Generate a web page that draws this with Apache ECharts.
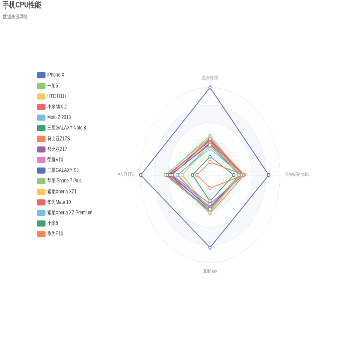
<!DOCTYPE html>
<html><head><meta charset="utf-8">
<script src="https://cdn.jsdelivr.net/npm/echarts@6/dist/echarts.min.js"></script>
<style>html,body{margin:0;padding:0;background:#fff;overflow:hidden;width:350px;height:350px}
#c{width:1000px;height:800px;transform:scale(0.35,0.4375);transform-origin:0 0}</style>
</head><body><div id="c"></div>
<script>
var indicators = ['综合性能', 'ANTUTU', '3DMark', 'GeekBench4'];
var phones = ['iPhone X','一加5','HTC U11+','小米MIX 2','Moto Z 2018','三星GALAXY Note 8','努比亚Z17S','努比亚Z17','荣耀V10','三星GALAXY S8','苹果iPhone 7 Plus','索尼Xperia XZ1','华为Mate 10','索尼Xperia XZ Premium','小米6','华为P10'];
var iPhoneX = [100, 99, 83, 84];
var oneplus5 = [45, 63, 40, 46];
var htcU11 = [38, 39, 42, 44];
var mix2 = [40, 59, 37, 47];
var motoZ = [33, 46, 38, 43];
var note8 = [36, 56, 39, 42];
var z17s = [42, 58, 44, 49];
var z17 = [39, 61, 41, 45];
var v10 = [37, 55, 36, 43];
var s8 = [35, 57, 38, 42];
var ip7p = [43, 64, 42, 41];
var xz1 = [34, 40, 40, 46];
var mate10 = [41, 54, 33, 48];
var xzp = [30, 47, 39, 45];
var mi6 = [21, 25, 30, 34];
var p10 = [15, 19, 15, 48];
var values = [iPhoneX, oneplus5, htcU11, mix2, motoZ, note8, z17s, z17, v10, s8, ip7p, xz1, mate10, xzp, mi6, p10];

var chart = echarts.init(document.getElementById('c'));
chart.setOption({
  animation: false,
  color: ['#5470c6','#91cc75','#fac858','#ee6666','#73c0de','#3ba272','#fc8452','#9a60b4','#ea7ccc'],
  title: {
    text: '手机CPU性能', subtext: '数据来源网络', left: 3, top: -2, itemGap: 12,
    textStyle: {fontSize: 18, fontWeight: 'bold', color: '#464646'},
    subtextStyle: {fontSize: 12, color: '#6e7079'}
  },
  legend: {
    orient: 'vertical', left: '10%', top: '20%', itemGap: 10.2,
    textStyle: {fontSize: 12, color: '#333'},
    data: phones
  },
  radar: {
    center: ['60%', '50%'], radius: '50%', shape: 'circle', splitNumber: 5,
    axisName: {color: '#999', fontSize: 12},
    nameGap: 15,
    splitArea: {areaStyle: {color: ['rgba(250,250,250,0.2)', 'rgba(210,219,238,0.2)']}},
    splitLine: {lineStyle: {color: '#E0E6F1'}},
    axisLine: {lineStyle: {color: '#E0E6F1'}},
    indicator: indicators.map(function(n){ return {name: n, max: 100}; })
  },
  series: [{
    type: 'radar', symbol: 'emptyCircle', symbolSize: 7, lineStyle: {width: 2},
    data: phones.map(function(p, i){ return {name: p, value: values[i]}; })
  }]
});
</script></body></html>
